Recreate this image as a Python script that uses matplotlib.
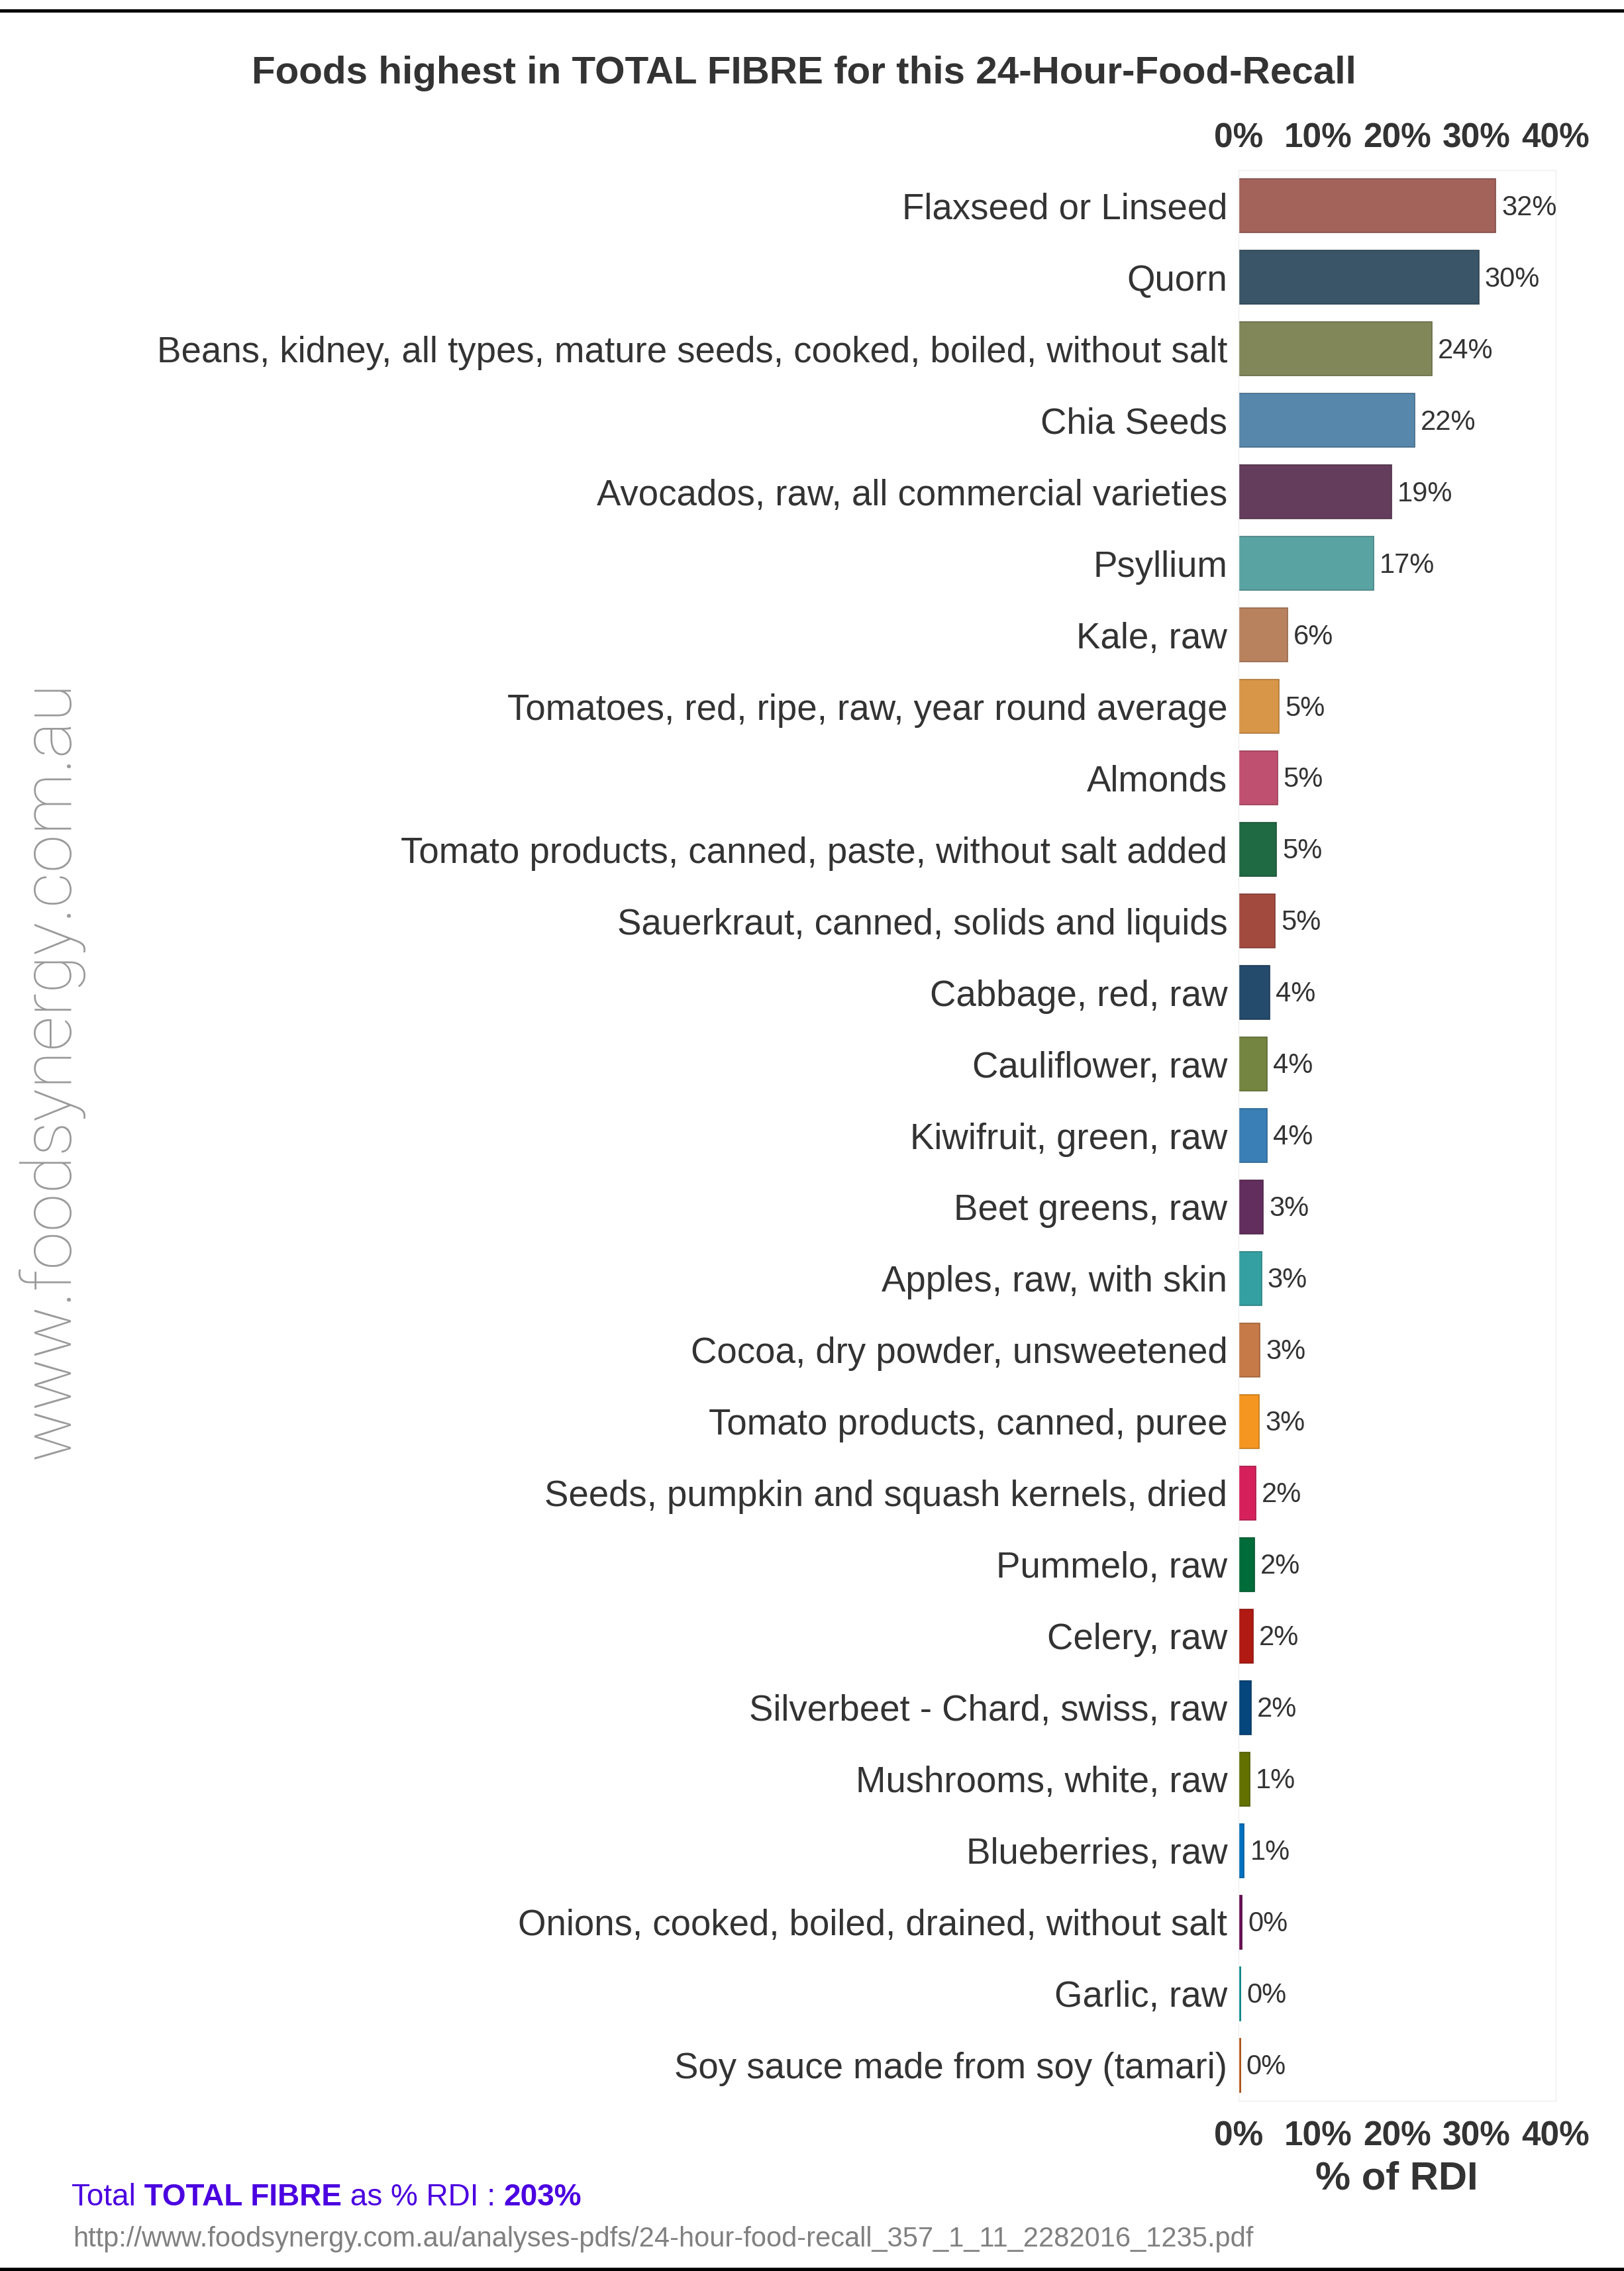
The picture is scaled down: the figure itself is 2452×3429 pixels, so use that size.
import matplotlib
matplotlib.use("Agg")
import matplotlib.pyplot as plt
from matplotlib.ticker import FuncFormatter, FixedLocator
from matplotlib.lines import Line2D
import matplotlib.colors as mcolors

plt.rcParams['font.family'] = ['Liberation Sans', 'DejaVu Sans']

foods = [
    "Flaxseed or Linseed",
    "Quorn",
    "Beans, kidney, all types, mature seeds, cooked, boiled, without salt",
    "Chia Seeds",
    "Avocados, raw, all commercial varieties",
    "Psyllium",
    "Kale, raw",
    "Tomatoes, red, ripe, raw, year round average",
    "Almonds",
    "Tomato products, canned, paste, without salt added",
    "Sauerkraut, canned, solids and liquids",
    "Cabbage, red, raw",
    "Cauliflower, raw",
    "Kiwifruit, green, raw",
    "Beet greens, raw",
    "Apples, raw, with skin",
    "Cocoa, dry powder, unsweetened",
    "Tomato products, canned, puree",
    "Seeds, pumpkin and squash kernels, dried",
    "Pummelo, raw",
    "Celery, raw",
    "Silverbeet - Chard, swiss, raw",
    "Mushrooms, white, raw",
    "Blueberries, raw",
    "Onions, cooked, boiled, drained, without salt",
    "Garlic, raw",
    "Soy sauce made from soy (tamari)",
]
pct_rdi = [32.4, 30.3, 24.4, 22.2, 19.3, 17.0, 6.2, 5.1, 4.9, 4.8, 4.6, 3.9,
           3.6, 3.6, 3.1, 2.9, 2.7, 2.6, 2.2, 2.0, 1.8, 1.6, 1.4, 0.7, 0.45,
           0.25, 0.22]
bar_colors = ["#A3625A", "#395567", "#818759", "#5787AA", "#643D5C", "#5AA3A3",
              "#B9825F", "#D89648", "#C0506F", "#1F6943", "#A34A3E", "#244A6C",
              "#748541", "#3A7FB5", "#622E5D", "#35A0A2", "#C57A48", "#F49620",
              "#D6205C", "#006C3A", "#B11A12", "#05467D", "#627100", "#0071BF",
              "#6B0D55", "#009999", "#C9560E"]
x_ticks = [0, 10, 20, 30, 40]
total_rdi = 203
nutrient = "TOTAL FIBRE"
source_url = "http://www.foodsynergy.com.au/analyses-pdfs/24-hour-food-recall_357_1_11_2282016_1235.pdf"

W, H = 2452, 3429
fig = plt.figure(figsize=(W / 100, H / 100), dpi=100)

# panel
x0, x1 = 1870, 2349
y0, y1 = 257, 3172
ax = fig.add_axes([x0 / W, 1 - y1 / H, (x1 - x0) / W, (y1 - y0) / H])

ypos = list(range(len(foods)))
edge = [tuple(c * 0.8 for c in mcolors.to_rgb(col)) for col in bar_colors]
ax.barh(ypos, pct_rdi, height=0.75, color=bar_colors, edgecolor=edge, linewidth=1.2)
ax.set_xlim(0, 40)
ax.set_ylim(len(foods) - 0.5, -0.5)

for y, v in zip(ypos, pct_rdi):
    ax.annotate(f"{round(v)}%", xy=(v, y), xytext=(6.5, -2), textcoords="offset points",
                ha="left", va="center", fontsize=30, color="#333333")

ax.set_yticks(ypos)
ax.set_yticklabels(foods, fontsize=39.3, color="#333333")
ax.tick_params(axis="y", length=0, pad=12)

pct_fmt = FuncFormatter(lambda v, p: f"{v:.0f}%")
ax.xaxis.set_major_locator(FixedLocator(x_ticks))
ax.xaxis.set_major_formatter(pct_fmt)
ax.tick_params(axis="x", length=0, pad=21, labelsize=37, labelcolor="#333333")
for lab in ax.get_xticklabels():
    lab.set_fontweight("bold")

sec = ax.secondary_xaxis("top")
sec.xaxis.set_major_locator(FixedLocator(x_ticks))
sec.xaxis.set_major_formatter(pct_fmt)
sec.tick_params(axis="x", length=0, pad=17, labelsize=37, labelcolor="#333333")
for lab in sec.get_xticklabels():
    lab.set_fontweight("bold")
sec.spines["top"].set_visible(False)

for s in ax.spines.values():
    s.set_color("#EFEFEF")
    s.set_linewidth(1.0)

# axis title
fig.text(2109 / W, 1 - 3290 / H, "% of RDI", ha="center", va="center",
         fontsize=43, fontweight="bold", color="#333333")

# title
fig.text(1214 / W, 1 - 111 / H, f"Foods highest in {nutrient} for this 24-Hour-Food-Recall",
         ha="center", va="center", fontsize=42, fontweight="bold", color="#333333")

# watermark
fig.text(75 / W, 1 - 1615 / H, "www.foodsynergy.com.au", rotation=90,
         ha="center", va="center", fontsize=75, color="#9A9A9A",
         family=["Roboto", "Liberation Sans"], fontweight="light")

# total line
purple = "#4B00E0"
t1 = fig.text(108 / W, 1 - 3330 / H, "Total", ha="left", va="baseline",
              fontsize=33, color=purple)
t2 = fig.add_artist(matplotlib.text.Annotation(" " + nutrient, xy=(1, 0), xycoords=t1,
                    va="bottom", ha="left", fontsize=33, fontweight="bold", color=purple))
t3 = fig.add_artist(matplotlib.text.Annotation(" as % RDI : ", xy=(1, 0), xycoords=t2,
                    va="bottom", ha="left", fontsize=33, color=purple))
t4 = fig.add_artist(matplotlib.text.Annotation(f"{total_rdi}%", xy=(1, 0), xycoords=t3,
                    va="bottom", ha="left", fontsize=33, fontweight="bold", color=purple))

fig.text(110 / W, 1 - 3392 / H, source_url, ha="left", va="baseline",
         fontsize=30, color="#808080")

# frame lines
fig.add_artist(Line2D([0, 1], [1 - 16 / H, 1 - 16 / H], transform=fig.transFigure,
                      color="black", linewidth=3.6))
fig.add_artist(Line2D([0, 1], [1 - 3426 / H, 1 - 3426 / H], transform=fig.transFigure,
                      color="black", linewidth=3.6))

fig.savefig("out.png", dpi=100)
